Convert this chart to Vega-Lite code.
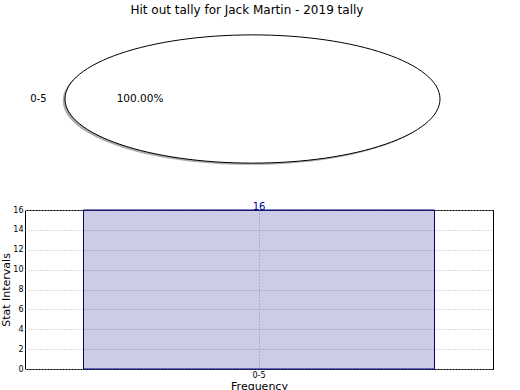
{
  "$schema": "https://vega.github.io/schema/vega-lite/v6.json",
  "padding": {"left": 0, "top": 4, "right": 5, "bottom": 0},
  "title": {"text": "Hit out tally for Jack Martin - 2019 tally", "fontSize": 12, "fontWeight": "normal", "font": "DejaVu Sans", "color": "black", "anchor": "middle", "offset": 2},
  "data": {"values": [{"interval": "0-5", "count": 16, "share": 1}]},
  "config": {
    "font": "DejaVu Sans",
    "view": {"stroke": "black", "strokeWidth": 1},
    "axis": {"labelFont": "DejaVu Sans", "labelFontSize": 8, "labelColor": "black", "titleFont": "DejaVu Sans", "titleFontSize": 11, "titleFontWeight": "normal", "titleColor": "black", "domain": false, "ticks": false, "labelPadding": 2, "gridColor": "#b5b5b5", "gridDash": [1, 2], "gridWidth": 1}
  },
  "spacing": 22,
  "vconcat": [
    {
      "width": 455,
      "height": 160,
      "view": {"stroke": null},
      "layer": [
        {"mark": {"type": "point", "shape": "M -1.012 0.009 A 1 0.342 0 1 0 0.988 0.009 A 1 0.342 0 1 0 -1.012 0.009 Z", "size": 140625, "filled": true, "fill": "#aaaaaa", "strokeWidth": 0, "opacity": 1}, "encoding": {}},
        {"mark": {"type": "point", "shape": "M -1 0 A 1 0.342 0 1 0 1 0 A 1 0.342 0 1 0 -1 0 Z", "size": 140625, "filled": true, "fill": "white", "stroke": "black", "strokeWidth": 1, "opacity": 1}, "encoding": {}},
        {"mark": {"type": "text", "radius": 206, "align": "right", "baseline": "middle", "fontSize": 10, "color": "black"},
         "encoding": {"theta": {"field": "count", "type": "quantitative", "stack": true, "scale": {"range": [1.5707963, 7.8539816]}}, "text": {"field": "interval"}}},
        {"mark": {"type": "text", "radius": 112.5, "align": "center", "baseline": "middle", "fontSize": 10.5, "color": "black"},
         "encoding": {"theta": {"field": "count", "type": "quantitative", "stack": true}, "text": {"field": "share", "type": "quantitative", "format": ".2%"}}}
      ]
    },
    {
      "width": 468,
      "height": 159,
      "encoding": {
        "x": {"field": "interval", "type": "nominal", "scale": {"paddingInner": 0, "paddingOuter": 0.1667}, "axis": {"title": "Frequency", "labelAngle": 0, "grid": true, "bandPosition": 0.5, "titlePadding": 1}},
        "y": {"field": "count", "type": "quantitative", "scale": {"domain": [0, 16], "nice": false}, "axis": {"title": "Stat Intervals", "values": [0, 2, 4, 6, 8, 10, 12, 14, 16], "grid": true, "titlePadding": 1}}
      },
      "layer": [
        {"mark": {"type": "bar", "fill": "#000080", "fillOpacity": 0.2, "stroke": "#000080", "strokeWidth": 1}},
        {"mark": {"type": "text", "baseline": "alphabetic", "dy": 0, "color": "#0000a0", "fontSize": 10}, "encoding": {"text": {"field": "count", "type": "quantitative"}}}
      ]
    }
  ]
}
